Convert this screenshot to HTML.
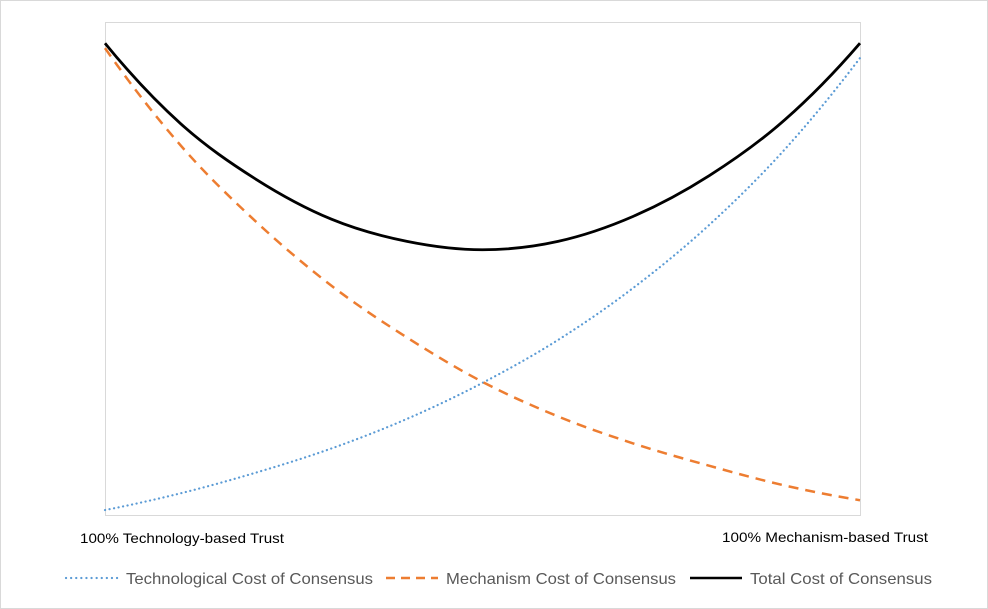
<!DOCTYPE html>
<html><head><meta charset="utf-8"><style>
html,body{margin:0;padding:0;background:#fff;}
svg{display:block;font-family:"Liberation Sans",sans-serif;}
</style></head><body>
<svg id="chart" width="988" height="609" viewBox="0 0 988 609">
<rect x="0.5" y="0.5" width="987" height="608" fill="#fff" stroke="#d9d9d9"/>
<rect x="105.5" y="22.5" width="755" height="493" fill="none" stroke="#d9d9d9"/>
<g id="series"></g>
<text x="80" y="543" font-size="14" fill="#000" textLength="204" lengthAdjust="spacingAndGlyphs">100% Technology-based Trust</text>
<text x="722" y="542" font-size="14" fill="#000" textLength="206" lengthAdjust="spacingAndGlyphs">100% Mechanism-based Trust</text>
<g>
<g>
<line x1="66" y1="578" x2="118" y2="578" stroke="#5b9bd5" stroke-width="2.2" stroke-dasharray="0.1 5" stroke-linecap="round"/>
<text x="126" y="584" font-size="16" fill="#595959" textLength="247" lengthAdjust="spacingAndGlyphs">Technological Cost of Consensus</text></g>
<g>
<line x1="386" y1="578" x2="438" y2="578" stroke="#ed7d31" stroke-width="2.5" stroke-dasharray="9 6"/>
<text x="446" y="584" font-size="16" fill="#595959" textLength="230" lengthAdjust="spacingAndGlyphs">Mechanism Cost of Consensus</text></g>
<g>
<line x1="690" y1="578" x2="742" y2="578" stroke="#000" stroke-width="2.5"/>
<text x="750" y="584" font-size="16" fill="#595959" textLength="182" lengthAdjust="spacingAndGlyphs">Total Cost of Consensus</text></g>
</g>
</svg>
<script>
const categories = [0,1,2,3,4,5,6,7,8,9,10];
const techValues = [1,4.4,8.6,13.5,19.5,26.8,35.5,46.1,58.8,74.1,92.7];
const mechValues = [94.7,75,59.5,46.5,36,27,20,14.5,10,6,3];
const totalValues = [95.7,79.4,68.1,60,55.5,53.8,55.5,60.6,68.8,80.1,95.7];
const yMax = 100;

function xScale(i){ return 105 + (i - categories[0]) / (categories[categories.length-1] - categories[0]) * 755; }
function yScale(v){ return 515 - v / yMax * 493; }
function pathFor(vals){
  const p = vals.map((v,i)=>[xScale(categories[i]), yScale(v)]);
  const n = p.length;
  // extrapolated phantom endpoints for smoother ends
  const first = [2*p[0][0]-p[1][0], 3*p[0][1]-3*p[1][1]+p[2][1]];
  const last = [2*p[n-1][0]-p[n-2][0], 3*p[n-1][1]-3*p[n-2][1]+p[n-3][1]];
  const q = [first].concat(p, [last]);
  let d = 'M' + p[0][0] + ',' + p[0][1];
  for(let i=1;i<q.length-2;i++){
    const p0=q[i-1],p1=q[i],p2=q[i+1],p3=q[i+2];
    const c1=[p1[0]+(p2[0]-p0[0])/6,p1[1]+(p2[1]-p0[1])/6];
    const c2=[p2[0]-(p3[0]-p1[0])/6,p2[1]-(p3[1]-p1[1])/6];
    d+=' C'+c1[0]+','+c1[1]+' '+c2[0]+','+c2[1]+' '+p2[0]+','+p2[1];
  }
  return d;
}
const g = document.getElementById('series');
const ns = 'http://www.w3.org/2000/svg';
function addLine(vals, color, width, dash, cap, name){
  const el = document.createElementNS(ns,'path');
  el.setAttribute('d', pathFor(vals));
  el.setAttribute('fill','none');
  el.setAttribute('stroke',color);
  el.setAttribute('stroke-width',width);
  if(dash) el.setAttribute('stroke-dasharray',dash);
  if(cap) el.setAttribute('stroke-linecap',cap);
  
  
  g.appendChild(el);
}
addLine(techValues,'#5b9bd5',2.2,'0.1 4.5','round','technological-cost-line');
addLine(mechValues,'#ed7d31',2.5,'10 7',null,'mechanism-cost-line');
addLine(totalValues,'#000',2.8,null,null,'total-cost-line');
</script>
</body></html>
